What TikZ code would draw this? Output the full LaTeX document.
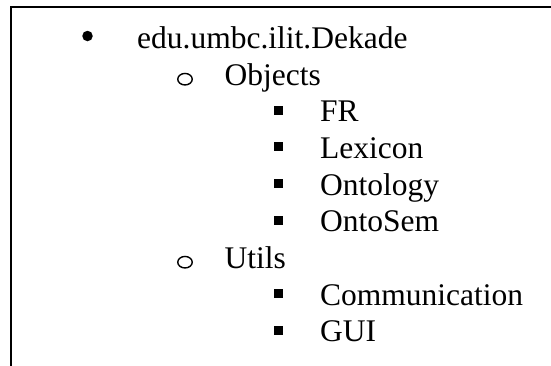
\documentclass[tikz,border=0pt]{standalone}
\usepackage{fontspec}
\usetikzlibrary{shapes.geometric}
\setmainfont{Liberation Serif}
\begin{document}
\begin{tikzpicture}[x=1pt,y=-1pt,
  itemtext/.style={anchor=base west,inner sep=0pt,font=\fontsize{31.5}{36}\selectfont},
  dotbullet/.style={circle,fill=black,inner sep=0pt,minimum size=10.5pt},
  ringbullet/.style={ellipse,draw=black,line width=1.4pt,inner sep=0pt,minimum width=14.5pt,minimum height=11.5pt},
  sqbullet/.style={rectangle,fill=black,inner sep=0pt,minimum size=9pt},
  frameline/.style={line width=2pt,black}]
\useasboundingbox (0,0) rectangle (551,365);
\draw[frameline] (11,366) -- (11,7.3) -- (552,7.3);
% level 0
\node[dotbullet] (b0) at (87.5,36) {};
\node[itemtext] (t0) at (137,48) {edu.umbc.ilit.Dekade};
% level 1
\node[ringbullet] (b1) at (185,79.2) {};
\node[itemtext] (t1) at (224.5,85.3) {Objects};
% level 2
\node[sqbullet] (b2) at (278.5,110) {};
\node[itemtext] (t2) at (320,121.6) {FR};
\node[sqbullet] (b3) at (278.5,146.7) {};
\node[itemtext] (t3) at (320,158.3) {Lexicon};
\node[sqbullet] (b4) at (278.5,183.4) {};
\node[itemtext] (t4) at (320,195) {Ontology};
\node[sqbullet] (b5) at (278.5,220.1) {};
\node[itemtext] (t5) at (320,231.7) {OntoSem};
% level 1
\node[ringbullet] (b6) at (185,262.2) {};
\node[itemtext] (t6) at (224.5,268.4) {Utils};
% level 2
\node[sqbullet] (b7) at (278.5,293.5) {};
\node[itemtext] (t7) at (320,305.1) {Communication};
\node[sqbullet] (b8) at (278.5,330.2) {};
\node[itemtext] (t8) at (320,341.8) {GUI};
\end{tikzpicture}
\end{document}
